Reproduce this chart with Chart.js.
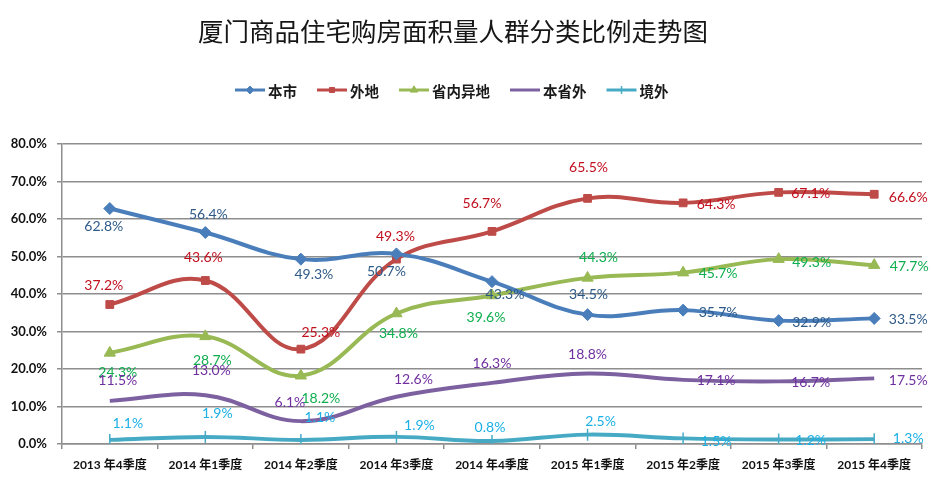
<!DOCTYPE html>
<html>
<head>
<meta charset="utf-8">
<script src="https://cdn.jsdelivr.net/npm/chart.js@4/dist/chart.umd.min.js"></script>
<style>
    html, body { margin: 0; padding: 0; background: #ffffff; }
    #wrap { width: 934px; height: 488px; }
</style>
</head>
<body>
<div id="wrap"><canvas id="chart" width="934" height="488"></canvas></div>
<script>
/* ===== Data ===== */

var quarters = ['2013 年4季度', '2014 年1季度', '2014 年2季度', '2014 年3季度', '2014 年4季度',
    '2015 年1季度', '2015 年2季度', '2015 年3季度', '2015 年4季度'];

var benshi = [62.8, 56.4, 49.3, 50.7, 43.3, 34.5, 35.7, 32.9, 33.5];      // 本市
var waidi = [37.2, 43.6, 25.3, 49.3, 56.7, 65.5, 64.3, 67.1, 66.6];       // 外地
var shengneiYidi = [24.3, 28.7, 18.2, 34.8, 39.6, 44.3, 45.7, 49.3, 47.7]; // 省内异地
var benshengwai = [11.5, 13.0, 6.1, 12.6, 16.3, 18.8, 17.1, 16.7, 17.5];  // 本省外
var jingwai = [1.1, 1.9, 1.1, 1.9, 0.8, 2.5, 1.5, 1.2, 1.3];              // 境外

var yTicks = [0, 10, 20, 30, 40, 50, 60, 70, 80];

var titleText = '厦门商品住宅购房面积量人群分类比例走势图';

/* ===== Label placement (pixel offsets from each point) ===== */

var offBenshi = [[-6, 18], [3, -18], [13, 15], [-10, 18], [13, 13], [1, -20], [35, 2], [33, 2], [34, 1]];
var offWaidi = [[-6, -19], [-2, -23], [20, -17], [-1, -23], [-10, -28], [1, -31], [33, 2], [32, 1], [34, 3]];
var offShengnei = [[8, 20], [7, 24], [20, 23], [2, 20], [-6, 22], [11, -20], [35, 1], [33, 3], [35, 1]];
var offBenshengwai = [[8, -20], [6, -25], [-11, -19], [17, -17], [0, -19], [0, -19], [33, 1], [32, 1], [34, 2]];
var offJingwai = [[18, -16], [12, -23], [19, -22], [23, -11], [-2, -14], [13, -13], [33, 3], [32, 1], [34, -1]];

/* ===== Styles ===== */

var colors = {
    blue: '#4a7ebb',
    red: '#be4b48',
    green: '#98b954',
    purple: '#7d60a0',
    cyan: '#46aac5',
    grid: '#8e8e8e',
};

var labelFont = '14px Lato, "Noto Sans CJK SC", sans-serif';
var cjkFont = '"Noto Sans CJK SC", sans-serif';

function makeSeries(label, data, color, labelColor, offsets, pointStyle, radius, rotation) {
    return {
        label: label,
        data: data,
        borderColor: color,
        backgroundColor: color,
        borderWidth: 4,
        tension: 0.4,
        fill: false,
        pointStyle: pointStyle,
        pointRadius: radius,
        pointHoverRadius: radius,
        pointRotation: rotation || 0,
        pointBorderWidth: pointStyle === 'line' ? 1.5 : 1,
        pointBackgroundColor: color,
        pointBorderColor: color,
        labelColor: labelColor,
        labelOffsets: offsets,
    };
}

var datasets = [
    makeSeries('本市', benshi, colors.blue, '#2e5a88', offBenshi, 'rectRot', 6),
    makeSeries('外地', waidi, colors.red, '#c0101e', offWaidi, 'rect', 5.5),
    makeSeries('省内异地', shengneiYidi, colors.green, '#0fae4f', offShengnei, 'triangle', 6.5),
    makeSeries('本省外', benshengwai, colors.purple, '#7030a0', offBenshengwai, 'circle', 0),
    makeSeries('境外', jingwai, colors.cyan, '#1cb0e6', offJingwai, 'line', 6, 90),
];

/* ===== Plugins ===== */

// value labels next to each point
var valueLabels = {
    id: 'valueLabels',
    afterDatasetsDraw: function(chart) {
        var ctx = chart.ctx;
        ctx.save();
        ctx.font = labelFont;
        ctx.textAlign = 'center';
        ctx.textBaseline = 'middle';
        chart.data.datasets.forEach(function(ds, i) {
            var meta = chart.getDatasetMeta(i);
            meta.data.forEach(function(pt, j) {
                var off = ds.labelOffsets[j];
                ctx.fillStyle = ds.labelColor;
                ctx.fillText(ds.data[j].toFixed(1) + '%', pt.x + off[0], pt.y + off[1]);
            });
        });
        ctx.restore();
    },
};

// title and legend, placed like the reference
var header = {
    id: 'header',
    afterDraw: function(chart) {
        var ctx = chart.ctx;
        ctx.save();
        ctx.fillStyle = '#161616';
        ctx.font = '25.5px ' + cjkFont;
        ctx.textAlign = 'center';
        ctx.textBaseline = 'middle';
        ctx.fillText(titleText, 453, 31);

        var x = 235;
        var y = 90;
        ctx.font = 'bold 14.5px ' + cjkFont;
        ctx.textAlign = 'left';
        chart.data.datasets.forEach(function(ds) {
            ctx.strokeStyle = ds.borderColor;
            ctx.lineWidth = 3;
            ctx.beginPath();
            ctx.moveTo(x, y);
            ctx.lineTo(x + 30, y);
            ctx.stroke();
            if (ds.pointRadius > 0) {
                ctx.fillStyle = ds.borderColor;
                ctx.lineWidth = ds.pointBorderWidth;
                Chart.helpers.drawPoint(ctx, {
                    pointStyle: ds.pointStyle,
                    radius: ds.pointRadius * 0.65,
                    rotation: ds.pointRotation,
                    borderWidth: ds.pointBorderWidth,
                }, x + 15, y);
            }
            ctx.fillStyle = '#1a1a1a';
            ctx.fillText(ds.label, x + 33, y + 1);
            x += 33 + ctx.measureText(ds.label).width + 20;
        });
        ctx.restore();
    },
};

/* ===== Chart ===== */

new Chart(document.getElementById('chart'), {
    type: 'line',
    data: { labels: quarters, datasets: datasets },
    plugins: [valueLabels, header],
    options: {
        responsive: false,
        animation: false,
        layout: { padding: { top: 144, right: 12, left: 0, bottom: 0 } },
        plugins: {
            legend: { display: false },
            title: { display: false },
            tooltip: { enabled: false },
        },
        scales: {
            x: {
                offset: true,
                grid: {
                    display: true,
                    offset: true,
                    drawOnChartArea: false,
                    drawTicks: true,
                    tickLength: 5,
                    color: colors.grid,
                    lineWidth: 1.5,
                },
                border: { display: true, color: colors.grid, width: 1.5 },
                ticks: {
                    color: '#111111',
                    padding: 9,
                    maxRotation: 0,
                    autoSkip: false,
                    font: { family: 'Lato, "Noto Sans CJK SC", sans-serif', size: 12, weight: 'bold' },
                },
                afterFit: function(scale) { scale.height = 44; },
            },
            y: {
                min: yTicks[0],
                max: yTicks[yTicks.length - 1],
                afterBuildTicks: function(scale) {
                    scale.ticks = yTicks.map(function(v) { return { value: v }; });
                },
                grid: {
                    color: colors.grid,
                    lineWidth: 1.5,
                    tickLength: 5,
                },
                border: { display: true, color: colors.grid, width: 1.5 },
                ticks: {
                    color: '#111111',
                    padding: 10,
                    font: { family: 'Lato, sans-serif', size: 13, weight: 'bold' },
                    callback: function(v) { return Number(v).toFixed(1) + '%'; },
                },
                afterFit: function(scale) { scale.width = 62; },
            },
        },
    },
});
</script>
</body>
</html>
